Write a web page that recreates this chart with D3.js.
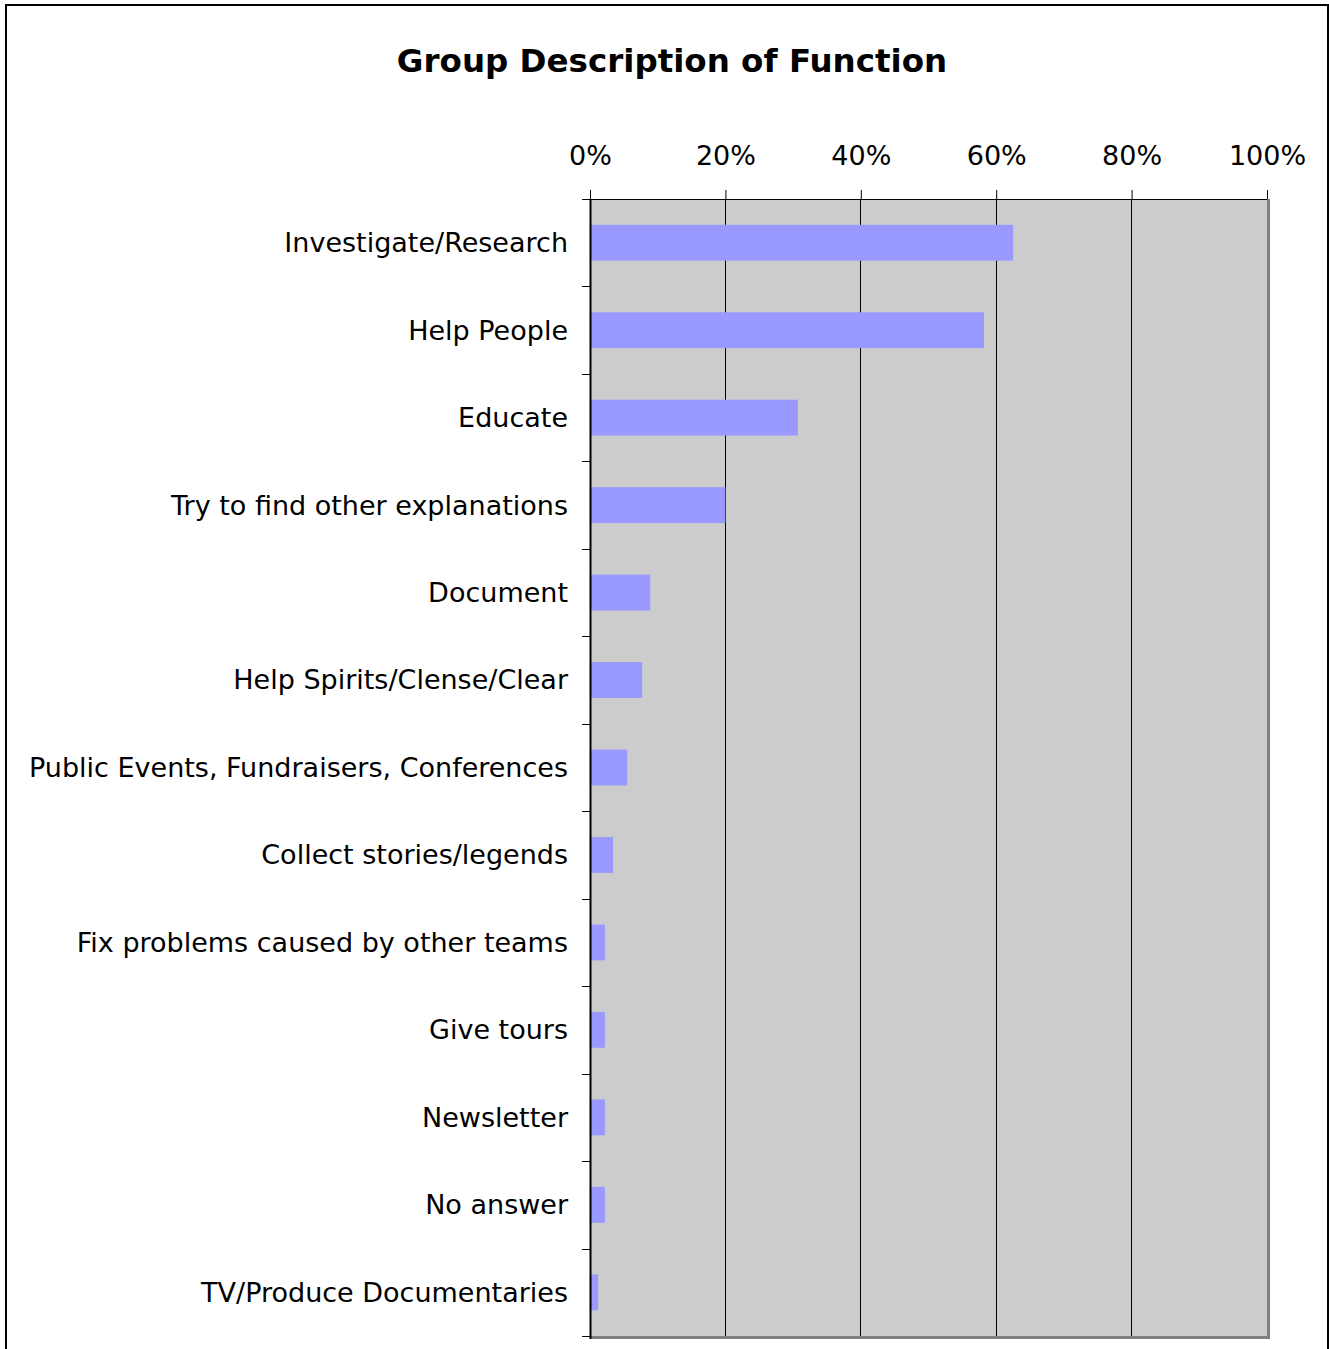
<!DOCTYPE html>
<html>
<head>
<meta charset="utf-8">
<script src="https://cdn.jsdelivr.net/npm/d3@7"></script>
<style>
  body { margin: 0; background: #fff; }
  svg { display: block; font-family: "DejaVu Sans", Verdana, sans-serif; }
</style>
</head>
<body>
<svg width="1329" height="1349"></svg>
<script>
const categories = [
    'Investigate/Research', 'Help People', 'Educate', 'Try to find other explanations',
    'Document', 'Help Spirits/Clense/Clear', 'Public Events, Fundraisers, Conferences',
    'Collect stories/legends', 'Fix problems caused by other teams', 'Give tours',
    'Newsletter', 'No answer', 'TV/Produce Documentaries'
]
const values = [62.5, 58.2, 30.7, 20.0, 8.9, 7.7, 5.5, 3.4, 2.2, 2.2, 2.2, 2.2, 1.2]
const tickValues = [0, 20, 40, 60, 80, 100]

const svg = d3.select('svg')

// outer frame
svg.append('rect').attr('x', 6).attr('y', 5).attr('width', 1322).attr('height', 1350)
    .attr('fill', 'none').attr('stroke', '#000').attr('stroke-width', 2)

svg.append('text').attr('x', 672).attr('y', 72).attr('text-anchor', 'middle')
    .attr('font-size', 32.5).attr('font-weight', 'bold').text('Group Description of Function')

const plotLeft = 590, plotRight = 1267, plotTop = 199, plotBottom = 1336
const x = d3.scaleLinear().domain([0, 100]).range([plotLeft, plotRight])
const y = d3.scaleBand().domain(categories).range([plotTop, plotBottom]).paddingInner(0.59).paddingOuter(0.295)
const yEdges = d3.scaleLinear().domain([0, categories.length]).range([plotTop, plotBottom])

// plot area
svg.append('rect').attr('x', plotLeft).attr('y', plotTop).attr('width', plotRight - plotLeft).attr('height', plotBottom - plotTop)
    .attr('fill', '#cccccc')

// gridlines
svg.append('g').selectAll('line').data(tickValues.slice(1, -1)).enter().append('line')
    .attr('x1', d => x(d)).attr('x2', d => x(d)).attr('y1', plotTop).attr('y2', plotBottom)
    .attr('stroke', '#000').attr('stroke-width', 1).attr('shape-rendering', 'crispEdges')

// bars
svg.append('g').selectAll('rect').data(values).enter().append('rect')
    .attr('x', x(0)).attr('y', (d, i) => y(categories[i]))
    .attr('width', d => x(d) - x(0)).attr('height', y.bandwidth())
    .attr('fill', '#9999ff')

// plot borders (right/bottom grey shadow)
svg.append('line').attr('x1', plotRight + 1.5).attr('x2', plotRight + 1.5).attr('y1', plotTop).attr('y2', plotBottom + 3)
    .attr('stroke', '#808080').attr('stroke-width', 3)
svg.append('line').attr('x1', plotLeft).attr('x2', plotRight + 3).attr('y1', plotBottom + 1.5).attr('y2', plotBottom + 1.5)
    .attr('stroke', '#808080').attr('stroke-width', 3)
svg.append('line').attr('x1', plotLeft).attr('x2', plotRight).attr('y1', plotTop + 0.5).attr('y2', plotTop + 0.5)
    .attr('stroke', '#000').attr('stroke-width', 1)

// top axis
const xAxis = d3.axisTop(x).tickValues(tickValues).tickFormat(d => d + '%').tickSize(9).tickPadding(25)
const gx = svg.append('g').attr('transform', `translate(0,${plotTop})`).call(xAxis)
gx.select('.domain').remove()
gx.selectAll('text').attr('font-size', 27).attr('fill', '#000').attr('font-family', '"DejaVu Sans", Verdana, sans-serif')
gx.selectAll('line').attr('stroke', '#000')

// left axis: ticks at band edges
svg.append('g').selectAll('line').data(d3.range(categories.length + 1)).enter().append('line')
    .attr('x1', plotLeft - 8).attr('x2', plotLeft).attr('y1', d => Math.round(yEdges(d)) + 0.5).attr('y2', d => Math.round(yEdges(d)) + 0.5)
    .attr('stroke', '#000')
svg.append('line').attr('x1', plotLeft + 0.5).attr('x2', plotLeft + 0.5).attr('y1', plotTop).attr('y2', plotBottom + 3)
    .attr('stroke', '#000').attr('stroke-width', 2)

svg.append('g').selectAll('text').data(categories).enter().append('text')
    .attr('x', 568).attr('y', d => y(d) + y.bandwidth() / 2).attr('dy', '0.35em')
    .attr('text-anchor', 'end').attr('font-size', 27).text(d => d)
</script>
</body>
</html>
